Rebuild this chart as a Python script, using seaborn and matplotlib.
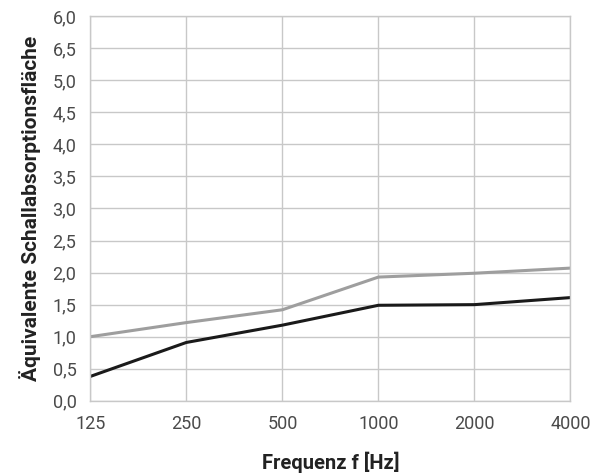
import matplotlib

matplotlib.use("Agg")

import matplotlib.pyplot as plt
import pandas as pd
import seaborn as sns

FREQUENCIES = ["125", "250", "500", "1000", "2000", "4000"]
GREY_VALUES = [1.00, 1.22, 1.42, 1.93, 1.99, 2.07]
BLACK_VALUES = [0.38, 0.91, 1.18, 1.49, 1.50, 1.61]
Y_TICKS = [0.0, 0.5, 1.0, 1.5, 2.0, 2.5, 3.0, 3.5, 4.0, 4.5, 5.0, 5.5, 6.0]
Y_TICK_LABELS = ["0,0", "0,5", "1,0", "1,5", "2,0", "2,5", "3,0", "3,5",
                 "4,0", "4,5", "5,0", "6,5", "6,0"]

sns.set_theme(style="white")
plt.rcParams["font.family"] = ["Roboto", "DejaVu Sans"]

data = pd.DataFrame({
    "Frequenz": FREQUENCIES * 2,
    "Wert": GREY_VALUES + BLACK_VALUES,
    "Serie": ["grau"] * 6 + ["schwarz"] * 6,
})

fig = plt.figure(figsize=(5.98, 4.76), dpi=100)
ax = fig.add_axes([0.151, 0.158, 0.803, 0.808])

sns.lineplot(
    data=data,
    x="Frequenz",
    y="Wert",
    hue="Serie",
    palette={"grau": "#9e9e9e", "schwarz": "#1a1a1a"},
    linewidth=2.2,
    legend=False,
    sort=False,
    ax=ax,
)

ax.set_xlim(0, 5)
ax.set_ylim(0, 6)
ax.set_yticks(Y_TICKS)
ax.set_yticklabels(Y_TICK_LABELS)
ax.grid(True, color="#c8c8c8", linewidth=1)
ax.set_axisbelow(True)
for spine in ax.spines.values():
    spine.set_color("#c8c8c8")
    spine.set_linewidth(1)
ax.tick_params(axis="both", length=0, labelsize=13, labelcolor="#4a4a4a")
ax.tick_params(axis="x", pad=10)
ax.tick_params(axis="y", pad=10)

ax.set_xlabel("Frequenz f [Hz]", fontsize=14.5, fontweight="bold", color="#222222", labelpad=14)
ax.set_ylabel("Äquivalente Schallabsorptionsfläche", fontsize=15, fontweight="bold",
              color="#222222", labelpad=8)

fig.savefig("out.png", dpi=100)
